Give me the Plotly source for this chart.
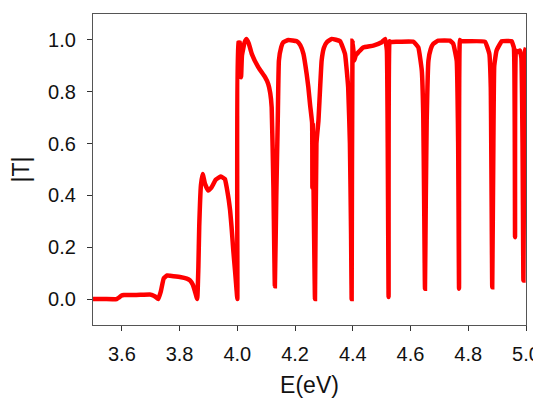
import plotly.graph_objects as go

# Energy (eV) and transmission |T|
E = [3.500, 3.540, 3.582, 3.590, 3.599, 3.607, 3.650, 3.697, 3.703, 3.715, 3.726,
     3.735, 3.745, 3.757, 3.767, 3.801, 3.825, 3.836, 3.846, 3.853, 3.861,
     3.865, 3.868, 3.874, 3.880, 3.888, 3.899, 3.910, 3.925, 3.942, 3.957, 3.963,
     3.970, 3.975, 3.980, 3.986, 3.992, 3.997, 4.000,
     4.003, 4.009, 4.013, 4.016, 4.025, 4.032, 4.040, 4.050, 4.073, 4.096, 4.107,
     4.114, 4.119, 4.125, 4.130, 4.135, 4.140, 4.144, 4.152, 4.159, 4.177,
     4.206, 4.218, 4.229, 4.240, 4.246, 4.252, 4.259, 4.2600, 4.2615, 4.265, 4.269,
     4.274, 4.281, 4.292, 4.300, 4.310, 4.327, 4.356, 4.373, 4.384, 4.390, 4.394, 4.396,
     4.399, 4.402, 4.405, 4.410, 4.419, 4.436, 4.471, 4.500, 4.512, 4.518, 4.521, 4.524,
     4.527, 4.530, 4.536, 4.564, 4.610, 4.627, 4.639, 4.644, 4.647, 4.650,
     4.653, 4.656, 4.662, 4.670, 4.679, 4.696, 4.737, 4.748, 4.760, 4.765, 4.768,
     4.771, 4.775, 4.783, 4.858, 4.873, 4.878, 4.883, 4.887, 4.890, 4.898,
     4.916, 4.950, 4.958, 4.962, 4.965, 4.970, 4.979, 4.984, 4.988, 4.991,
     4.994, 4.997, 5.000]
T = [0.000, 0.000, 0.000, 0.006, 0.014, 0.016, 0.016, 0.018, 0.016, 0.010, 0.000,
     0.030, 0.080, 0.091, 0.090, 0.085, 0.079, 0.072, 0.055, 0.030, 0.000,
     0.120, 0.280, 0.440, 0.483, 0.445, 0.419, 0.430, 0.460, 0.473, 0.463, 0.432,
     0.385, 0.342, 0.278, 0.188, 0.110, 0.040, 0.000,
     0.990, 0.990, 0.856, 0.940, 0.990, 1.004, 0.985, 0.946, 0.894, 0.856, 0.830,
     0.795, 0.740, 0.430, 0.050, 0.400, 0.689, 0.920, 0.972, 0.991, 1.000,
     0.995, 0.980, 0.946, 0.870, 0.817, 0.750, 0.680, 0.430, 0.670, 0.330, 0.000,
     0.600, 0.689, 0.920, 0.970, 0.991, 1.004, 0.995, 0.946, 0.817, 0.600, 0.250, 0.000,
     0.997, 0.960, 0.920, 0.940, 0.952, 0.971, 0.978, 0.991, 1.004, 0.960, 0.600, 0.008,
     0.995, 0.992, 0.992, 0.993, 0.993, 0.971, 0.882, 0.715, 0.400, 0.040,
     0.400, 0.689, 0.920, 0.965, 0.985, 0.997, 0.997, 0.985, 0.920, 0.600, 0.040,
     1.000, 0.995, 0.995, 0.993, 0.946, 0.817, 0.046, 0.600, 0.900, 0.959,
     0.995, 0.995, 0.970, 0.239, 0.959, 0.952, 0.959, 0.930, 0.600, 0.072,
     0.700, 0.960, 0.970]

x_ticks = [3.6, 3.8, 4.0, 4.2, 4.4, 4.6, 4.8, 5.0]
y_ticks = [0.0, 0.2, 0.4, 0.6, 0.8, 1.0]

fig = go.Figure()
fig.add_trace(go.Scatter(x=E, y=T, mode="lines",
                         line=dict(color="#ff0000", width=4.5, shape="spline", smoothing=0.3),
                         showlegend=False, hoverinfo="skip"))

font_family = "Arial, Liberation Sans, sans-serif"
axis_common = dict(showline=True, linecolor="#555555", linewidth=1.2, mirror=True,
                   ticks="outside", ticklen=5, tickcolor="#333333", tickwidth=1,
                   showgrid=False, zeroline=False, automargin=False,
                   tickfont=dict(family=font_family, size=20, color="#111111"))

# the page body adds an 8px offset, so the figure is sized to fit the 541x398 window
fig.update_layout(
    width=533, height=390,
    margin=dict(l=85, r=15, t=6, b=73),
    paper_bgcolor="white", plot_bgcolor="white",
    xaxis=dict(range=[3.5, 5.0], tickvals=x_ticks, ticktext=[f"{v:.1f}" for v in x_ticks],
               ticklabelstandoff=6,
               title=dict(text="E(eV)", font=dict(family=font_family, size=23, color="#111111"), standoff=14),
               **axis_common),
    yaxis=dict(range=[-0.1, 1.1], tickvals=y_ticks, ticktext=[f"{v:.1f}" for v in y_ticks],
               ticklabelstandoff=7,
               title=dict(text="|T|", font=dict(family=font_family, size=23, color="#111111"), standoff=12),
               **axis_common),
)

fig.write_html("out.html")
